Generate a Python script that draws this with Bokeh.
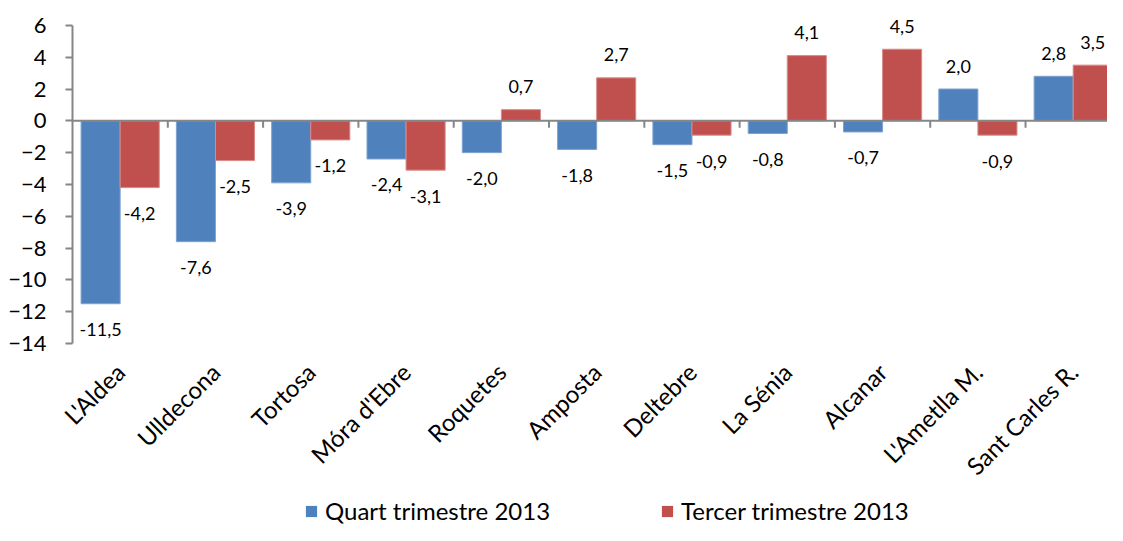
import math
from bokeh.plotting import figure
from bokeh.layouts import column
from bokeh.models import ColumnDataSource, Range1d, FixedTicker, Legend, LegendItem, Span
from bokeh.embed import file_html
from bokeh.resources import INLINE

cities = ["L'Aldea", "Ulldecona", "Tortosa", "Móra d'Ebre", "Roquetes", "Amposta",
          "Deltebre", "La Sénia", "Alcanar", "L'Ametlla M.", "Sant Carles R."]
quart = [-11.5, -7.6, -3.9, -2.4, -2.0, -1.8, -1.5, -0.8, -0.7, 2.0, 2.8]
tercer = [-4.2, -2.5, -1.2, -3.1, 0.7, 2.7, -0.9, 4.1, 4.5, -0.9, 3.5]
series_names = ["Quart trimestre 2013", "Tercer trimestre 2013"]
y_ticks = list(range(-14, 7, 2))

BLUE = "#4F81BD"
RED = "#C0504D"
BLUE_EDGE = "#7FA3D0"
RED_EDGE = "#D88A88"
GRAY = "#868686"
FONT = "Lato"
n = len(cities)
BAR_W = 0.41
W = 1107
LEG_H = 32
H = 525 - LEG_H


def fmt(v):
    return f"{v:.1f}".replace(".", ",")


def make_source(vals, offset):
    return ColumnDataSource(dict(
        x=[i + offset for i in range(n)],
        top=vals,
        label=[fmt(v) for v in vals],
        yoff=[26 if v < 0 else -23 for v in vals],
    ))


src_q = make_source(quart, 0.5 - BAR_W / 2)
src_t = make_source(tercer, 0.5 + BAR_W / 2)

# frame extends a little above the top tick so that top labels are not clipped
p = figure(width=W, height=H, output_backend="svg", toolbar_location=None,
           x_range=Range1d(0, 10.86), y_range=Range1d(-14, 7.25),
           min_border_left=72, min_border_top=5, min_border_right=0,
           min_border_bottom=H - 346)
p.outline_line_color = None
p.grid.visible = False

r_q = p.vbar(x="x", top="top", bottom=0, width=BAR_W, source=src_q,
             fill_color=BLUE, line_color=BLUE_EDGE, line_width=1)
r_t = p.vbar(x="x", top="top", bottom=0, width=BAR_W, source=src_t,
             fill_color=RED, line_color=RED_EDGE, line_width=1)

p.add_layout(Span(location=0, dimension="width", line_color=GRAY, line_width=2))

# category boundary tick marks on the zero line
p.ray(x=[i for i in range(1, n + 1)], y=[0] * n, length=7, length_units="screen",
      angle=-math.pi / 2, line_color=GRAY, line_width=2)

for src in (src_q, src_t):
    p.text(x="x", y="top", text="label", y_offset="yoff", source=src,
           text_align="center", text_baseline="middle",
           text_font={"value": FONT}, text_font_size="18px", text_color="black")

# y axis
ya = p.yaxis[0]
ya.ticker = FixedTicker(ticks=y_ticks)
ya.bounds = (min(y_ticks), max(y_ticks))
ya.axis_line_color = GRAY
ya.axis_line_width = 2
ya.major_tick_line_color = GRAY
ya.major_tick_line_width = 2
ya.major_tick_out = 7
ya.major_tick_in = 0
ya.minor_tick_line_color = None
ya.major_label_standoff = 19
ya.major_label_text_font = FONT
ya.major_label_text_font_size = "22px"
ya.major_label_text_color = "black"

# x axis (category labels)
xa = p.xaxis[0]
centers = [i + 0.5 for i in range(n)]
xa.ticker = FixedTicker(ticks=centers)
xa.major_label_overrides = {c: name for c, name in zip(centers, cities)}
xa.axis_line_color = None
xa.major_tick_line_color = None
xa.minor_tick_line_color = None
xa.major_tick_out = 0
xa.major_tick_in = 0
xa.major_label_orientation = math.pi / 4
xa.major_label_standoff = 24
xa.major_label_text_font = FONT
xa.major_label_text_font_size = "24px"
xa.major_label_text_color = "black"

# legend strip
leg = figure(width=W, height=LEG_H, output_backend="svg", toolbar_location=None,
             x_axis_location=None, y_axis_location=None,
             min_border_left=72, min_border_right=0, min_border_top=0,
             min_border_bottom=0)
leg.outline_line_color = None
leg.grid.visible = False
lq = leg.vbar(x=[0], top=[0], width=0.4, fill_color=BLUE, line_alpha=0)
lt = leg.vbar(x=[0], top=[0], width=0.4, fill_color=RED, line_alpha=0)
legend = Legend(items=[LegendItem(label=series_names[0], renderers=[lq]),
                       LegendItem(label=series_names[1], renderers=[lt])],
                orientation="horizontal", location=(232, 0),
                glyph_width=14, glyph_height=14, label_standoff=7, spacing=110,
                padding=0, margin=0, border_line_color=None,
                background_fill_alpha=0,
                label_text_font=FONT, label_text_font_size="24px",
                label_text_color="black")
leg.add_layout(legend, "center")

layout = column(p, leg, spacing=0)
open("out.html", "w").write(file_html(layout, INLINE))
